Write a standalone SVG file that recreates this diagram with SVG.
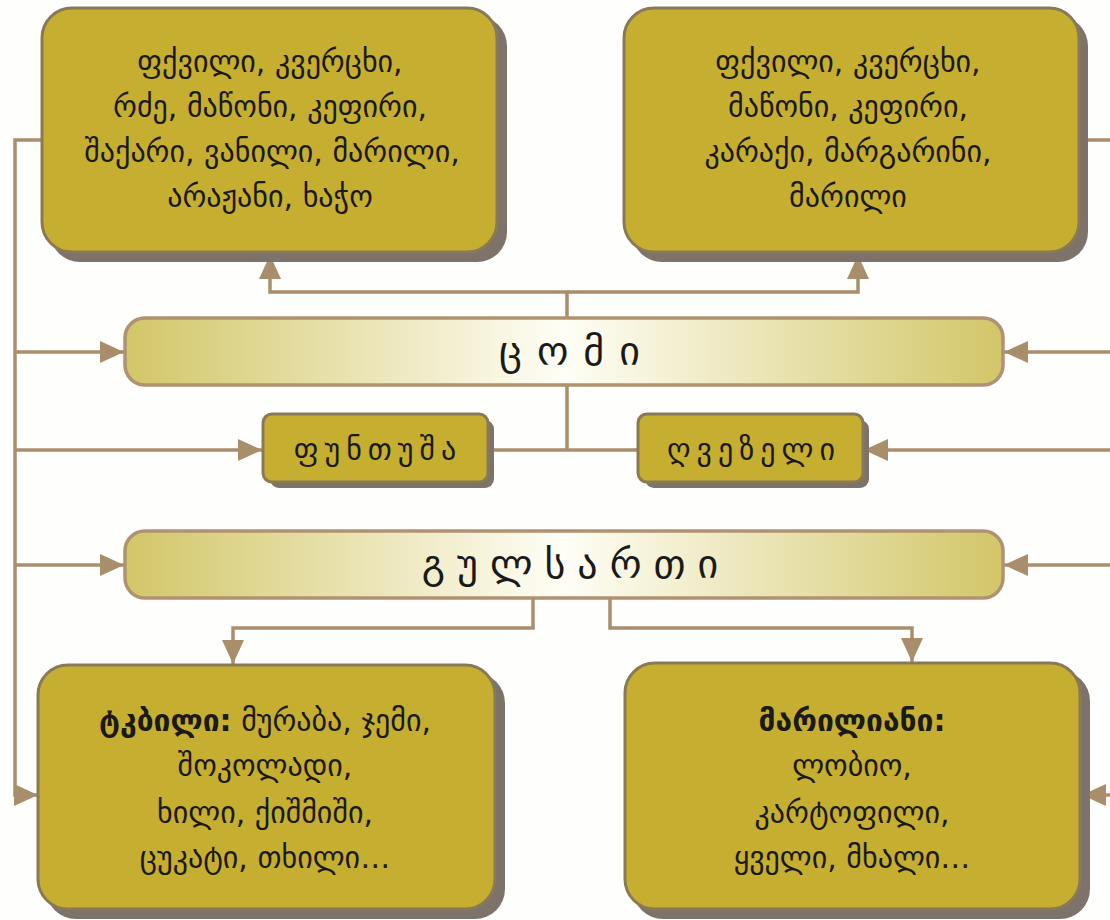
<svg xmlns="http://www.w3.org/2000/svg" width="1110" height="920" viewBox="0 0 1110 920">
<defs>
<linearGradient id="barg" x1="0" y1="0" x2="1" y2="0">
<stop offset="0" stop-color="#D2C668"/>
<stop offset="0.5" stop-color="#FFFEF6"/>
<stop offset="1" stop-color="#D2C668"/>
</linearGradient>
<marker id="ah" markerUnits="userSpaceOnUse" markerWidth="24" markerHeight="22" refX="24" refY="11" orient="auto">
<path d="M0,0 L24,11 L0,22 z" fill="#A98E6C"/>
</marker>
<style>
.box{fill:#C6AE30;stroke:#8A7957;stroke-width:3}
.sh{fill:#7E736A}
.bar{fill:url(#barg);stroke:#B09272;stroke-width:3.5}
.c{fill:none;stroke:#A98E6C;stroke-width:3.5}
.t{font-family:"DejaVu Sans",sans-serif;font-size:30px;fill:#1a1a1a;text-anchor:middle}
.b{font-weight:bold}
.bt{font-family:"DejaVu Sans",sans-serif;font-size:40px;fill:#1a1a1a;text-anchor:middle}
.st{font-family:"DejaVu Sans",sans-serif;font-size:30px;fill:#1a1a1a;text-anchor:middle;letter-spacing:6px}
</style>
</defs>
<rect width="1110" height="920" fill="#FEFEFC"/>
<g id="connectors">
<path class="c" d="M42,140 H15 V795 H38" marker-end="url(#ah)"/>
<path class="c" d="M15,352 H124" marker-end="url(#ah)"/>
<path class="c" d="M15,450 H262" marker-end="url(#ah)"/>
<path class="c" d="M15,565 H124" marker-end="url(#ah)"/>
<path class="c" d="M1080,140 H1112"/>
<path class="c" d="M1112,352 H1004" marker-end="url(#ah)"/>
<path class="c" d="M1112,450 H864" marker-end="url(#ah)"/>
<path class="c" d="M1112,565 H1004" marker-end="url(#ah)"/>
<path class="c" d="M1112,795 H1082" marker-end="url(#ah)"/>
<path class="c" d="M567,318 V292 H270 V255" marker-end="url(#ah)"/>
<path class="c" d="M567,292 H858 V255" marker-end="url(#ah)"/>
<path class="c" d="M567,386 V450"/>
<path class="c" d="M488,450 H638"/>
<path class="c" d="M533,598 V628 H233 V664" marker-end="url(#ah)"/>
<path class="c" d="M610,598 V628 H912 V662" marker-end="url(#ah)"/>
</g>
<g id="n-topleft">
<rect class="sh" x="50" y="16" width="457" height="246" rx="30"/>
<rect class="box" x="42" y="8" width="455" height="244" rx="30"/>
<text class="t" x="270" y="72">ფქვილი, კვერცხი,</text>
<text class="t" x="270" y="117">რძე, მაწონი, კეფირი,</text>
<text class="t" x="272" y="162">შაქარი, ვანილი, მარილი,</text>
<text class="t" x="270" y="207">არაჟანი, ხაჭო</text>
</g>
<g id="n-topright">
<rect class="sh" x="632" y="16" width="456" height="246" rx="30"/>
<rect class="box" x="624" y="8" width="455" height="244" rx="30"/>
<text class="t" x="848" y="72">ფქვილი, კვერცხი,</text>
<text class="t" x="848" y="117">მაწონი, კეფირი,</text>
<text class="t" x="848" y="162">კარაქი, მარგარინი,</text>
<text class="t" x="848" y="207">მარილი</text>
</g>
<g id="n-tsomi">
<rect class="bar" x="125" y="318" width="878" height="67" rx="20"/>
<text class="bt" x="577" y="365" letter-spacing="15">ცომი</text>
</g>
<g id="n-puntusha">
<rect class="sh" x="270" y="420" width="224" height="68" rx="9"/>
<rect class="box" x="263" y="414" width="225" height="68" rx="9"/>
<text class="st" x="378" y="460">ფუნთუშა</text>
</g>
<g id="n-ghvezeli">
<rect class="sh" x="645" y="420" width="224" height="68" rx="9"/>
<rect class="box" x="638" y="414" width="225" height="68" rx="9"/>
<text class="st" x="754" y="460">ღვეზელი</text>
</g>
<g id="n-gulsarti">
<rect class="bar" x="125" y="531" width="878" height="67" rx="20"/>
<text class="bt" x="576" y="578" letter-spacing="12">გულსართი</text>
</g>
<g id="n-sweet">
<rect class="sh" x="46" y="673" width="459" height="246" rx="30"/>
<rect class="box" x="38" y="665" width="457" height="244" rx="30"/>
<text class="t" x="265" y="731"><tspan class="b">ტკბილი:</tspan> მურაბა, ჯემი,</text>
<text class="t" x="265" y="776">შოკოლადი,</text>
<text class="t" x="265" y="823">ხილი, ქიშმიში,</text>
<text class="t" x="265" y="868">ცუკატი, თხილი…</text>
</g>
<g id="n-salty">
<rect class="sh" x="633" y="671" width="457" height="248" rx="30"/>
<rect class="box" x="625" y="663" width="455" height="246" rx="30"/>
<text class="t b" x="852" y="731">მარილიანი:</text>
<text class="t" x="852" y="776">ლობიო,</text>
<text class="t" x="852" y="823">კარტოფილი,</text>
<text class="t" x="852" y="868">ყველი, მხალი…</text>
</g>
</svg>
